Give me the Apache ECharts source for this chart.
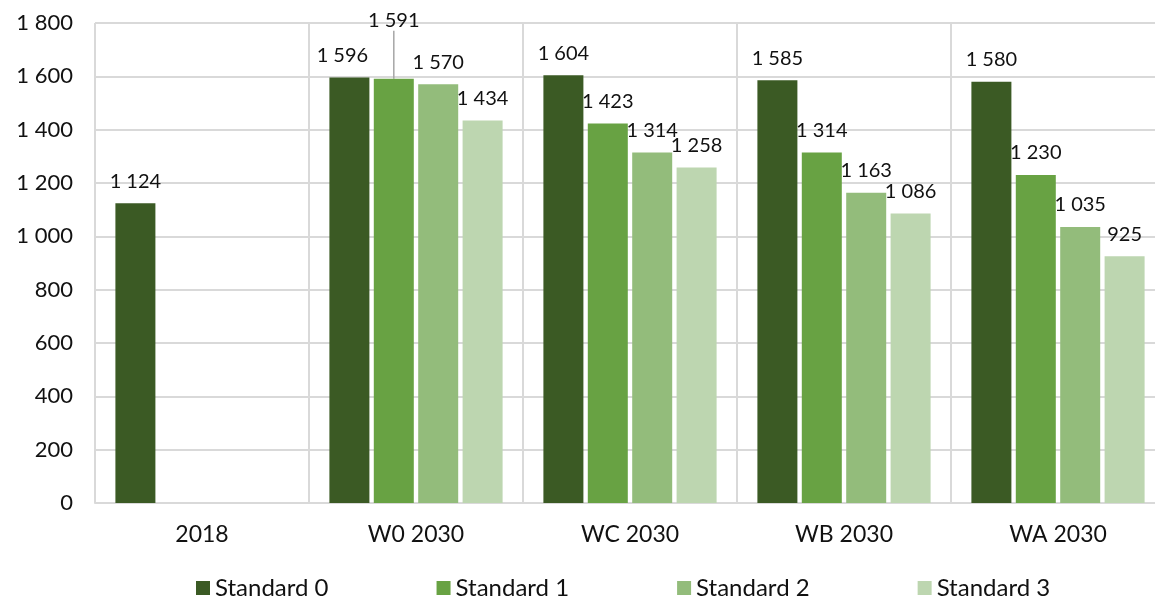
<!DOCTYPE html>
<html>
<head>
<meta charset="utf-8">
<style>
  html, body { margin: 0; padding: 0; background: #fff; }
  #chart { width: 1155px; height: 596px; }
</style>
<script src="https://cdn.jsdelivr.net/npm/echarts@6/dist/echarts.min.js"></script>
</head>
<body>
<div id="chart"></div>
<script>
// Categories and series values
const categories = ['2018', 'W0 2030', 'WC 2030', 'WB 2030', 'WA 2030'];
const seriesNames = ['Standard 0', 'Standard 1', 'Standard 2', 'Standard 3'];
const standard0 = [1124, 1596, 1604, 1585, 1580];
const standard1 = [null, 1591, 1423, 1314, 1230];
const standard2 = [null, 1570, 1314, 1163, 1035];
const standard3 = [null, 1434, 1258, 1086, 925];
const yTicks = { min: 0, max: 1800, interval: 200 };

const colors = ['#3b5a24', '#68a243', '#93bc7b', '#bdd6b0'];
const FONT = 'Lato, "Noto Sans", sans-serif';

// Thousands separated by a space
const fmt = v => String(Math.round(v)).replace(/\B(?=(\d{3})+(?!\d))/g, ' ');

function barSeries(name, values, idx) {
  return {
    name: name,
    type: 'bar',
    // W0 2030 / Standard 1 label gets a leader line
    data: values.map((v, i) =>
      (idx === 1 && i === 1)
        ? { value: v, labelLine: { show: true, lineStyle: { color: '#a6a6a6', width: 1.5 } } }
        : v),
    barWidth: 40,
    barGap: '11%',
    itemStyle: { color: colors[idx] },
    label: {
      show: true,
      position: 'top',
      distance: 12,
      color: '#111',
      fontFamily: FONT,
      fontSize: 20,
      formatter: p => fmt(p.value)
    },
    labelLine: { show: false },
    labelLayout: function (p) {
      // W0 2030: lift the Standard 1 label above its neighbours, nudge Standard 0 left
      if (idx === 1 && p.dataIndex === 1) return { dy: -36 };
      if (idx === 0 && p.dataIndex === 1) return { dx: -7 };
      return {};
    }
  };
}

const chart = echarts.init(document.getElementById('chart'), null, { renderer: 'canvas' });
chart.setOption({
  animation: false,
  backgroundColor: '#ffffff',
  textStyle: { fontFamily: FONT },
  grid: { left: 95, width: 1070, top: 23, bottom: 93, containLabel: false, outerBoundsMode: 'none' },
  legend: {
    data: seriesNames,
    top: 571,
    left: 191,
    icon: 'rect',
    itemWidth: 14,
    itemHeight: 14,
    itemGap: 108,
    textStyle: { fontFamily: FONT, fontSize: 24, color: '#111' }
  },
  xAxis: {
    type: 'category',
    data: categories,
    axisLine: { show: true, lineStyle: { color: '#d9d9d9', width: 2 } },
    axisTick: { show: false },
    splitLine: { show: true, lineStyle: { color: '#d9d9d9', width: 2 } },
    axisLabel: { fontFamily: FONT, fontSize: 23, color: '#111', margin: 20 }
  },
  yAxis: {
    type: 'value',
    min: yTicks.min,
    max: yTicks.max,
    interval: yTicks.interval,
    axisLine: { show: false },
    axisTick: { show: false },
    splitLine: { lineStyle: { color: '#d9d9d9', width: 2 } },
    axisLabel: { fontFamily: FONT, fontSize: 22, color: '#111', margin: 22, formatter: fmt }
  },
  series: [
    barSeries(seriesNames[0], standard0, 0),
    barSeries(seriesNames[1], standard1, 1),
    barSeries(seriesNames[2], standard2, 2),
    barSeries(seriesNames[3], standard3, 3)
  ]
});
</script>
</body>
</html>
